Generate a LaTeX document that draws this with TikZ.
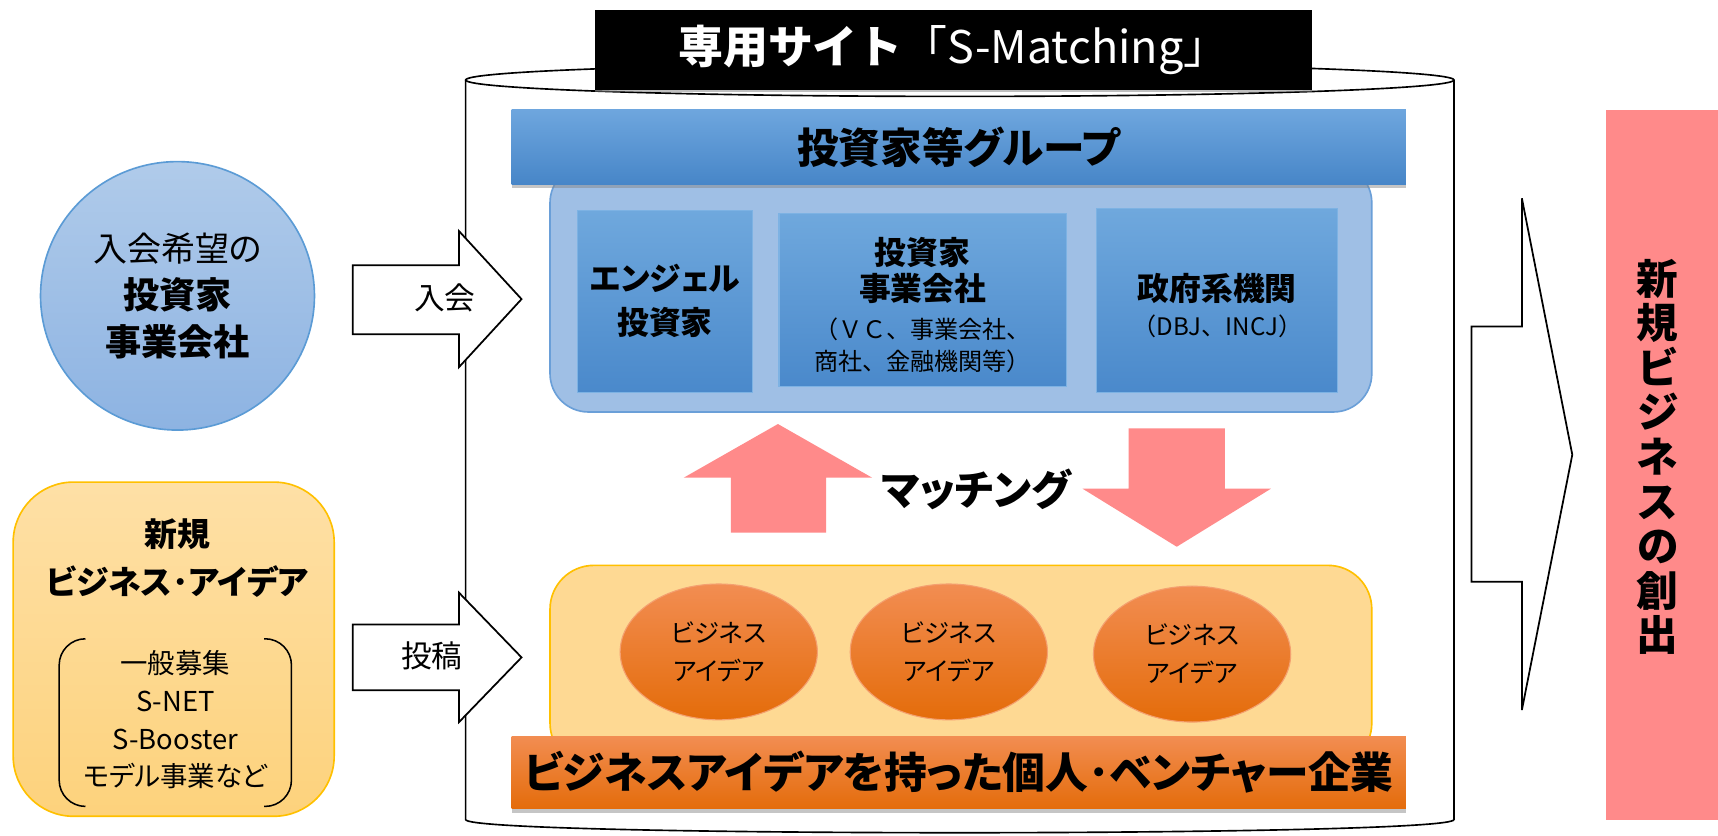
\documentclass[tikz,border=0pt]{standalone}
\usepackage{fontspec}
\setmainfont{Noto Sans CJK JP}[RawFeature=+palt]
\newfontfamily\jpfw{Noto Sans CJK JP}
\usetikzlibrary{shadows,shapes.geometric}
\definecolor{cirTop}{HTML}{B0CBEA}
\definecolor{cirBot}{HTML}{8DB3E2}
\definecolor{cirBdr}{HTML}{5B9BD5}
\definecolor{ylwTop}{HTML}{FEE0A6}
\definecolor{ylwBot}{HTML}{FDD27C}
\definecolor{ylwBdr}{HTML}{FFC000}
\definecolor{ylwFill}{HTML}{FED993}
\definecolor{hdTop}{HTML}{6EA6DE}
\definecolor{hdBot}{HTML}{4786C8}
\definecolor{cntFill}{HTML}{9FBFE5}
\definecolor{cntBdr}{HTML}{6A9FD8}
\definecolor{inTop}{HTML}{6FA8DD}
\definecolor{inBot}{HTML}{4A89CB}
\definecolor{inBdr}{HTML}{7DB2E3}
\definecolor{orTop}{HTML}{F28D52}
\definecolor{orBot}{HTML}{E46C0A}
\definecolor{orBdr}{HTML}{F4A070}
\definecolor{pinkA}{HTML}{FF8A8A}
\newcommand{\fsz}[2]{\fontsize{#1}{#2}\selectfont}
\tikzset{
  outl/.style={draw=black, line width=1.6, fill=white, line join=miter},
  innerbox/.style={draw=inBdr, line width=1, top color=inTop, bottom color=inBot},
  idea/.style={ellipse, draw=orBdr, line width=1, top color=orTop, bottom color=orBot,
    minimum width=180, minimum height=124, inner sep=0, align=center, font=\fsz{23}{35}},
  bar/.style={drop shadow={shadow xshift=0pt, shadow yshift=-4pt, opacity=0.45}},
  lbl/.style={align=center, inner sep=0}
}
\begin{document}
\begin{tikzpicture}[x=1pt,y=-1pt]
\useasboundingbox (0,0) rectangle (1568,763);

% cylinder
\draw[line width=1.5, fill=white] (425,73) -- (425,748) .. controls (425,764) and (1327,764) .. (1327,748) -- (1327,73);
\draw[line width=1.5] (876,73) ellipse [x radius=451, y radius=15];

% title
\node (title) at (870,45.5) [fill=black, minimum width=654, minimum height=73, inner sep=0,
  drop shadow={shadow xshift=0pt, shadow yshift=-2pt, opacity=0.5},
  text=white, font=\jpfw\fsz{41}{44}] {\textbf{専用サイト}「S-Matching」};

% left circle
\node (join) at (162,270) [ellipse, draw=cirBdr, line width=1.5, top color=cirTop, bottom color=cirBot,
  minimum width=250, minimum height=245, inner sep=0, align=center, font=\fsz{31}{43}]
  {入会希望の\\\fsz{33}{43}\textbf{投資家}\\\fsz{33}{43}\textbf{事業会社}};

% left idea box
\node (ideas) at (158.5,592.5) [draw=ylwBdr, line width=1.5, rounded corners=55, top color=ylwTop, bottom color=ylwBot,
  minimum width=293, minimum height=305] {};
\node (ideatitle) at (162,509) [lbl, font=\bfseries\fsz{30}{44}] {新規\\ビジネス･アイデア};
\draw[line width=1.4, rounded corners=24] (78,583) -- (54,583) -- (54,736) -- (78,736);
\draw[line width=1.4, rounded corners=24] (241,583) -- (266,583) -- (266,736) -- (241,736);
\node (idealist) at (160,657) [lbl, font=\fsz{25}{34.5}] {一般募集\\S-NET\\S-Booster\\モデル事業など};

% block arrows left
\draw[outl] (322,242) -- (419,242) -- (419,211) -- (476,273) -- (419,335) -- (419,305) -- (322,305) -- cycle;
\node (joinlbl) at (406,272) [lbl, font=\fsz{28}{30}] {入会};
\draw[outl] (322,570) -- (419,570) -- (419,541) -- (476,600) -- (419,659) -- (419,630) -- (322,630) -- cycle;
\node (postlbl) at (394,599) [lbl, font=\fsz{28}{30}] {投稿};

% investor container
\node (invbox) at (877,263) [draw=cntBdr, line width=1.5, fill=cntFill, rounded corners=35,
  minimum width=750, minimum height=226] {};
\node (grp) at (875,134) [bar, top color=hdTop, bottom color=hdBot, minimum width=816, minimum height=68,
  font=\bfseries\fsz{38}{40}] {投資家等グループ};

\node (angel) at (607,275) [innerbox, minimum width=160, minimum height=166] {};
\node (angeltxt) at (607,275) [lbl, font=\bfseries\fsz{29}{40}] {エンジェル\\投資家};
\node (corp) at (842,273.5) [innerbox, minimum width=262, minimum height=158] {};
\node (corptxt) at (842,246.5) [lbl, font=\bfseries\fsz{29}{33}] {投資家\\事業会社};
\node (corpsub) at (842,315.5) [lbl, font=\jpfw\fsz{22}{29}] {（ＶＣ、事業会社、\\商社、金融機関等）};
\node (gov) at (1111,274.5) [innerbox, minimum width=220, minimum height=168] {};
\node (govtxt) at (1111,263) [lbl, font=\bfseries\fsz{29}{33}] {政府系機関};
\node (govsub) at (1111,298) [lbl, font=\jpfw\fsz{22}{29}] {（DBJ、INCJ）};

% matching arrows
\fill[pinkA] (710,387) -- (796,436) -- (754,436) -- (754,486) -- (667,486) -- (667,436) -- (624,436) -- cycle;
\fill[pinkA] (1030,391) -- (1118,391) -- (1118,446) -- (1160,446) -- (1074,499) -- (988,446) -- (1030,446) -- cycle;
\node (match) at (891,447) [lbl, font=\bfseries\fsz{38}{40}] {マッチング};

% idea container
\node (ideabox) at (877,608) [draw=ylwBdr, line width=1.5, fill=ylwFill, rounded corners=40,
  minimum width=750, minimum height=184] {};
\node (i1) at (656,595) [idea] {ビジネス\\アイデア};
\node (i2) at (866,595) [idea] {ビジネス\\アイデア};
\node (i3) at (1088,597) [idea] {ビジネス\\アイデア};
\node (venture) at (875,705) [bar, top color=orTop, bottom color=orBot, minimum width=816, minimum height=66,
  font=\bfseries\fsz{39}{40}] {ビジネスアイデアを持った個人･ベンチャー企業};

% right arrow and result
\draw[outl] (1343,298) -- (1389,298) -- (1389,181) -- (1435,415) -- (1389,648) -- (1389,531) -- (1343,531) -- cycle;
\node (result) at (1517,424) [fill=pinkA, minimum width=102, minimum height=648, inner sep=0] {};
\node (resulttxt) at (1513,417) [lbl, font=\bfseries\fsz{38}{40.7}] {新\\規\\ビ\\ジ\\ネ\\ス\\の\\創\\出};
\end{tikzpicture}
\end{document}
